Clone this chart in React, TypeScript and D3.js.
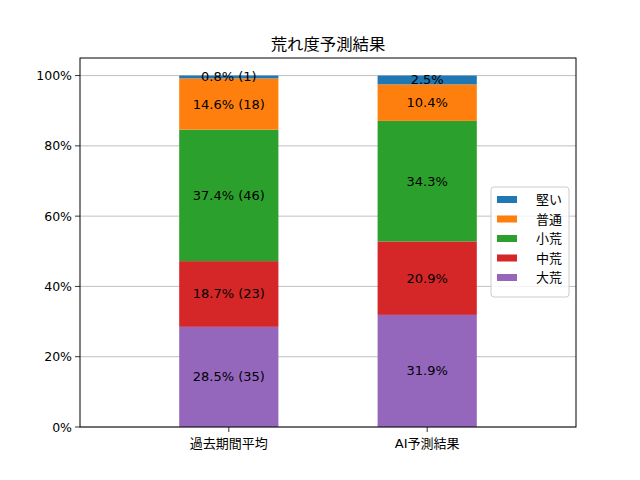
import React from "react";
import * as d3 from "d3";

const categories = ["過去期間平均", "AI予測結果"];
const seriesNames = ["大荒", "中荒", "小荒", "普通", "堅い"];
const seriesColors = ["#9467bd", "#d62728", "#2ca02c", "#ff7f0e", "#1f77b4"];
const pastPercents = [28.5, 18.7, 37.4, 14.6, 0.8];
const pastCounts = [35, 23, 46, 18, 1];
const aiPercents = [31.9, 20.9, 34.3, 10.4, 2.5];
const yTicks = [0, 20, 40, 60, 80, 100];
const title = "荒れ度予測結果";

const W = 640, H = 480;
const L = 80, R = 576, T = 58, B = 427;
const FONT = "'DejaVu Sans', 'Noto Sans CJK JP', sans-serif";

export default function App() {
  const x = d3.scaleLinear().domain([-0.75, 1.75]).range([L, R]);
  const y = d3.scaleLinear().domain([0, 105]).range([B, T]);
  const barW = x(0.5) - x(0);
  const data = [pastPercents, aiPercents];

  const segs: any[] = [];
  data.forEach((vals, ci) => {
    let acc = 0;
    vals.forEach((v, si) => {
      const y0 = acc, y1 = acc + v;
      acc = y1;
      const label = ci === 0 ? `${v.toFixed(1)}% (${pastCounts[si]})` : `${v.toFixed(1)}%`;
      segs.push({ ci, si, y0, y1, label });
    });
  });

  const legendItems = [...seriesNames.map((n, i) => ({ n, c: seriesColors[i] }))].reverse();
  const lx = 491, ly = 187, lw = 78, lh = 110;

  return (
    <svg width={W} height={H} style={{ position: "absolute", left: 0, top: 0, background: "#fff" }} fontFamily={FONT}>
      <rect x={0} y={0} width={W} height={H} fill="#fff" />
      {yTicks.map((t) => (
        <line key={"g" + t} x1={L} x2={R} y1={y(t)} y2={y(t)} stroke="#b0b0b0" strokeWidth={0.8} />
      ))}
      {segs.map((s, i) => (
        <rect key={"b" + i} x={x(s.ci) - barW / 2} width={barW} y={y(s.y1)} height={y(s.y0) - y(s.y1)} fill={seriesColors[s.si]} />
      ))}
      {segs.map((s, i) => (
        <text key={"t" + i} x={x(s.ci)} y={(y(s.y0) + y(s.y1)) / 2} textAnchor="middle" dominantBaseline="central" fontSize={13} fill="#000">
          {s.label}
        </text>
      ))}
      <rect x={L} y={T} width={R - L} height={B - T} fill="none" stroke="#000" strokeWidth={1} />
      {yTicks.map((t) => (
        <g key={"y" + t}>
          <line x1={L - 5} x2={L} y1={y(t)} y2={y(t)} stroke="#000" strokeWidth={0.8} />
          <text x={L - 8} y={y(t)} textAnchor="end" dominantBaseline="central" fontSize={12.5}>{t}%</text>
        </g>
      ))}
      {categories.map((c, i) => (
        <g key={"x" + i}>
          <line x1={x(i)} x2={x(i)} y1={B} y2={B + 5} stroke="#000" strokeWidth={0.8} />
          <text x={x(i)} y={B + 16} textAnchor="middle" dominantBaseline="central" fontSize={13}>{c}</text>
        </g>
      ))}
      <text x={(L + R) / 2} y={44} textAnchor="middle" dominantBaseline="central" fontSize={16.4}>{title}</text>
      <rect x={lx} y={ly} width={lw} height={lh} rx={3} fill="#fff" fillOpacity={0.8} stroke="#cccccc" strokeWidth={1} />
      {legendItems.map((it, i) => (
        <g key={"l" + i}>
          <rect x={lx + 6} y={ly + 9 + i * 19.5} width={20} height={7} fill={it.c} />
          <text x={lx + 45} y={ly + 12.5 + i * 19.5} dominantBaseline="central" fontSize={13}>{it.n}</text>
        </g>
      ))}
    </svg>
  );
}
